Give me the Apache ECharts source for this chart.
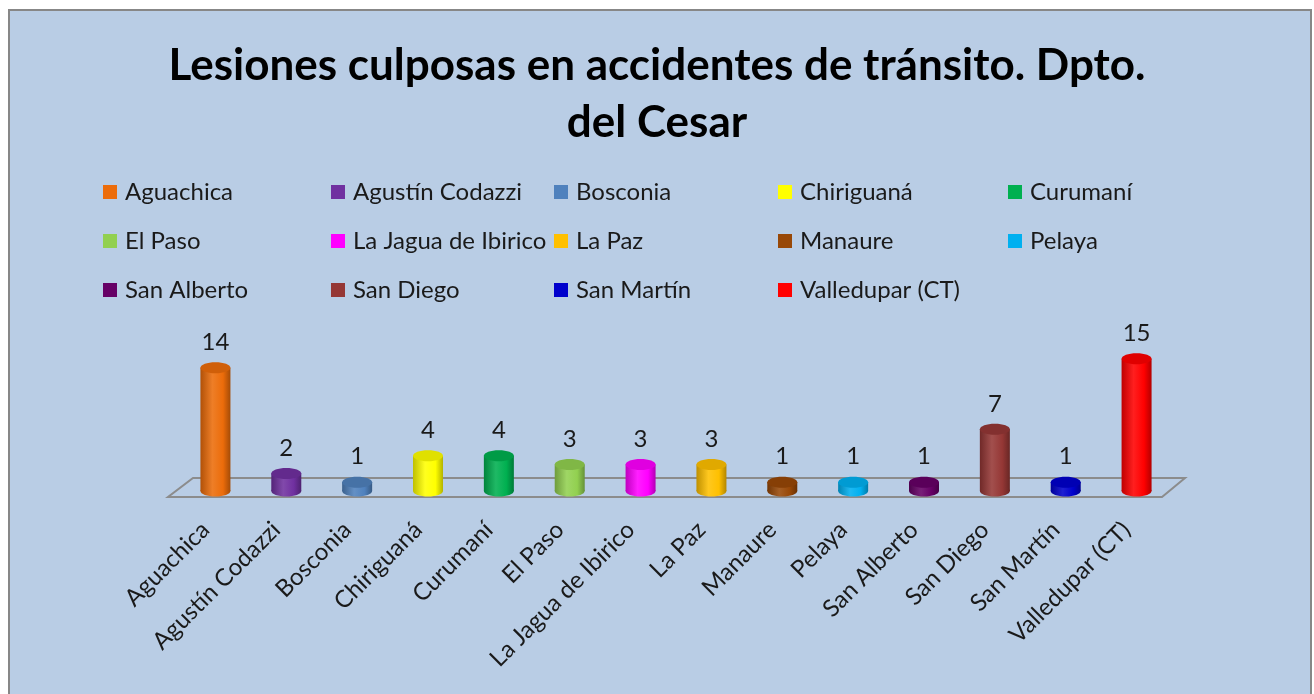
<!DOCTYPE html>
<html>
<head>
<meta charset="utf-8">
<script src="https://cdn.jsdelivr.net/npm/echarts@6/dist/echarts.min.js"></script>
<style>
  html, body { margin: 0; padding: 0; background: #fff; }
  #chart { width: 1314px; height: 694px; }
</style>
</head>
<body>
<div id="chart"></div>
<script>
const CATEGORIES = [
  "Aguachica", "Agustín Codazzi", "Bosconia", "Chiriguaná", "Curumaní",
  "El Paso", "La Jagua de Ibirico", "La Paz", "Manaure", "Pelaya",
  "San Alberto", "San Diego", "San Martín", "Valledupar (CT)"
];
const VALUES = [14, 2, 1, 4, 4, 3, 3, 3, 1, 1, 1, 7, 1, 15];
const COLORS = [
  "#ec6c0a", "#7030a0", "#4f81bd", "#ffff00", "#00b050",
  "#92d050", "#ff00ff", "#ffc000", "#984807", "#00b0f0",
  "#660066", "#953735", "#0000cc", "#ff0000"
];

const FONT = "Lato, 'Open Sans', sans-serif";

// mix a hex colour toward black (t<0) or white (t>0)
function shade(hex, t) {
  const n = parseInt(hex.slice(1), 16);
  let rgb = [(n >> 16) & 255, (n >> 8) & 255, n & 255];
  rgb = rgb.map(c => t < 0 ? Math.round(c * (1 + t)) : Math.round(c + (255 - c) * t));
  return "rgb(" + rgb.join(",") + ")";
}

function cylinder(color) {
  return function (params, api) {
    const x = api.value(0);
    const v = api.value(1);
    const base = api.coord([x, 0]);
    const top = api.coord([x, v]);
    const rx = 15, ry = 5.5;
    const cx = base[0];
    const side = {
      type: "linear", x: 0, y: 0, x2: 1, y2: 0,
      colorStops: [
        { offset: 0, color: shade(color, -0.25) },
        { offset: 0.4, color: shade(color, 0.12) },
        { offset: 0.75, color: color },
        { offset: 1, color: shade(color, -0.3) }
      ]
    };
    return {
      type: "group",
      children: [
        { type: "ellipse", shape: { cx: cx, cy: base[1], rx: rx, ry: ry }, style: { fill: side } },
        { type: "rect", shape: { x: cx - rx, y: top[1], width: rx * 2, height: base[1] - top[1] }, style: { fill: side } },
        { type: "ellipse", shape: { cx: cx, cy: top[1], rx: rx, ry: ry }, style: { fill: shade(color, -0.12) } },
        {
          type: "text",
          style: {
            text: String(v), x: cx, y: top[1] - ry - 8,
            align: "center", verticalAlign: "bottom",
            font: "24px " + FONT, fill: "#1a1a1a"
          }
        }
      ]
    };
  };
}

const series = CATEGORIES.map((name, i) => ({
  name: name,
  type: "custom",
  itemStyle: { color: COLORS[i] },
  renderItem: cylinder(COLORS[i]),
  data: [[i, VALUES[i]]],
  z: 5
}));

const legendCols = [103, 331, 554, 778, 1008];
const legends = legendCols.map((left, c) => ({
  orient: "vertical",
  left: left,
  top: 180,
  padding: 0,
  itemWidth: 14,
  itemHeight: 14,
  itemGap: 25,
  icon: "rect",
  selectedMode: false,
  textStyle: { fontSize: 24, fontFamily: FONT, color: "#1a1a1a", lineHeight: 24, padding: [0, 0, 0, 3] },
  data: CATEGORIES.filter((_, i) => i % 5 === c)
}));

const chart = echarts.init(document.getElementById("chart"), null, { renderer: "canvas" });
chart.setOption({
  backgroundColor: "#fff",
  animation: false,
  title: {
    text: "Lesiones culposas en accidentes de tránsito. Dpto.\ndel Cesar",
    left: "center",
    top: 32,
    textStyle: { fontSize: 44, fontWeight: "bold", fontFamily: FONT, color: "#000", lineHeight: 57 }
  },
  legend: legends,
  grid: { left: 180, right: 142, top: 350, bottom: 203 },
  xAxis: {
    type: "category",
    data: CATEGORIES,
    axisLine: { show: false },
    axisTick: { show: false },
    axisLabel: { interval: 0, rotate: 45, margin: 25, padding: [0, 14, 0, 0], fontSize: 24, fontFamily: FONT, color: "#1a1a1a" }
  },
  yAxis: { type: "value", min: 0, max: 16, show: false, splitLine: { show: false } },
  graphic: [
    { type: "rect", shape: { x: 0, y: 0, width: 1314, height: 694 }, style: { fill: "#fff" }, z: -10, silent: true },
    { type: "rect", shape: { x: 9, y: 10, width: 1302, height: 700 }, style: { fill: "#b9cde5", stroke: "#878787", lineWidth: 2 }, z: -9, silent: true },
    { type: "polygon", shape: { points: [[168, 497], [1162, 497], [1185, 478], [193, 478]] }, style: { fill: "none", stroke: "#8c8c8c", lineWidth: 2 }, z: -8, silent: true }
  ],
  series: series
});
</script>
</body>
</html>
